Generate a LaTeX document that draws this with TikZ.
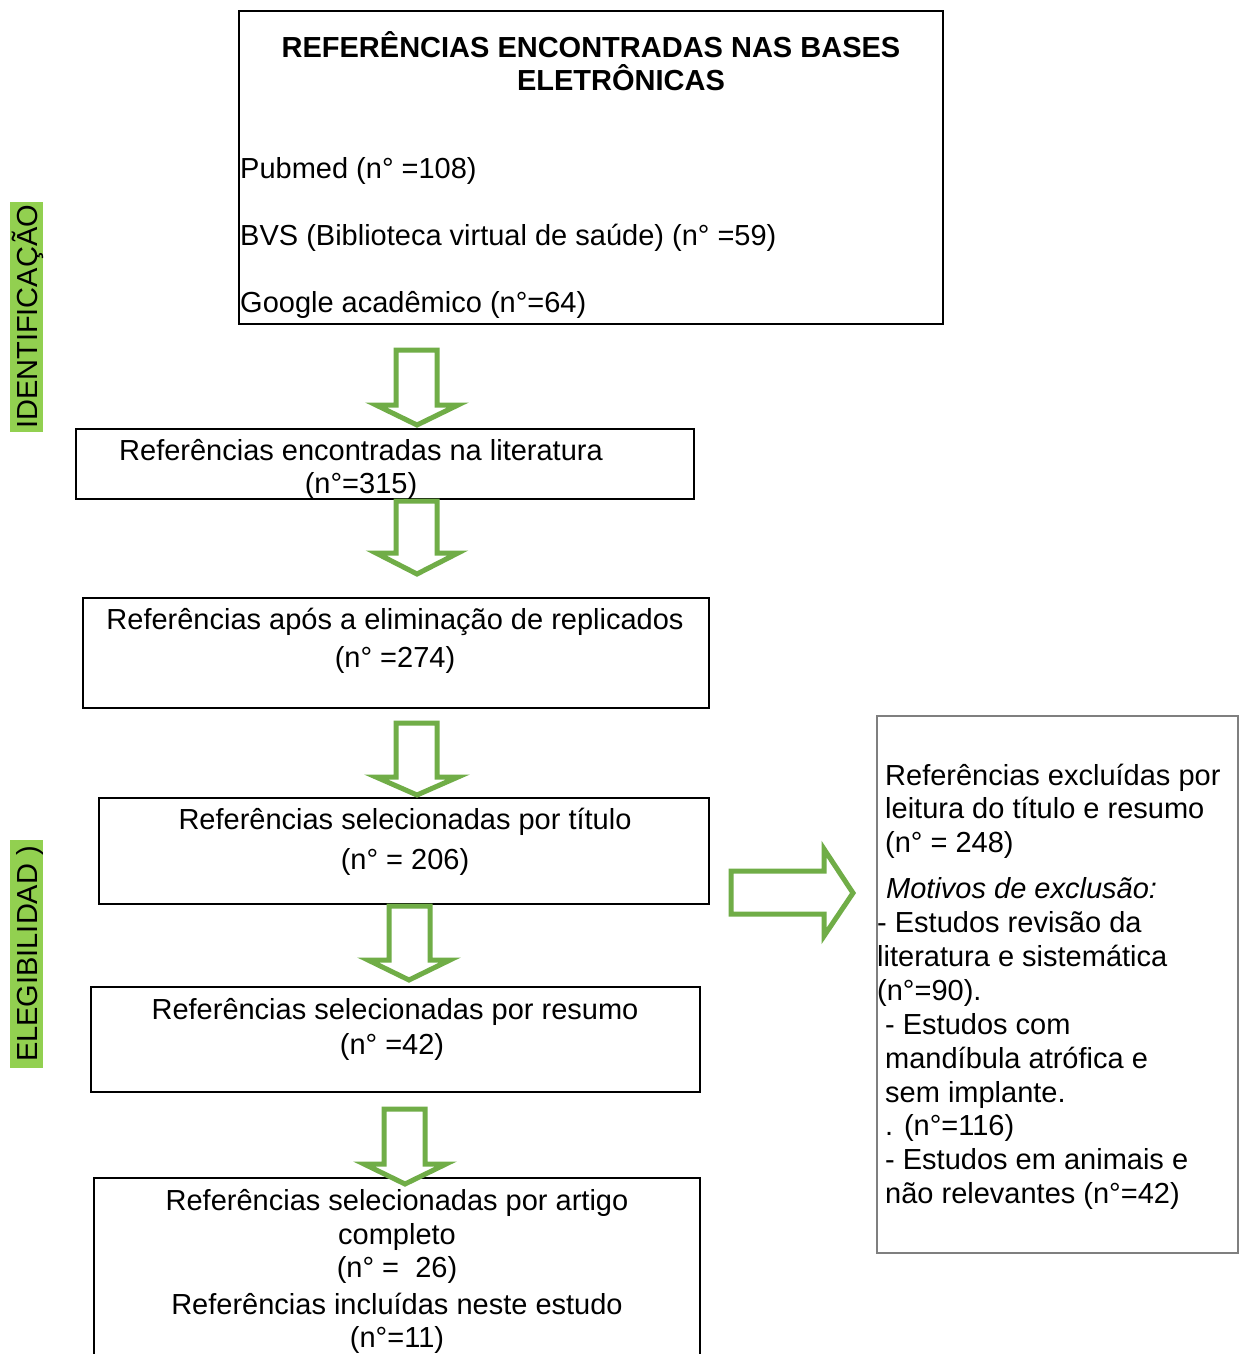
\documentclass[tikz,border=0pt]{standalone}
\usepackage{fontspec}
\setmainfont{Liberation Sans}
\definecolor{arrowgreen}{HTML}{70AD47}
\definecolor{labelgreen}{HTML}{92D050}
\definecolor{boxgray}{HTML}{7F7F7F}
\newcommand{\vblockarrow}[7]{%
  \draw[barrow] (#1,#3) -- (#2,#3) -- (#2,#4) -- (#6,#4) -- ({(#5+#6)/2},#7) -- (#5,#4) -- (#1,#4) -- cycle;}
\begin{document}
\begin{tikzpicture}[x=1pt,y=-1pt,
  box/.style={draw=black,line width=1.6pt,inner sep=0pt,anchor=north west},
  gbox/.style={draw=boxgray,line width=1.6pt,inner sep=0pt,anchor=north west},
  txt/.style={font=\fontsize{29}{34}\selectfont,inner sep=0pt},
  barrow/.style={draw=arrowgreen,line width=5pt,fill=white,line join=miter},
  side/.style={fill=labelgreen,rotate=90,inner sep=0pt,text height=27pt,text depth=6pt,font=\fontsize{29}{34}\selectfont}
]
\clip (0,0) rectangle (1243,1354);
\fill[white] (0,0) rectangle (1243,1354);

% side labels
\node[side,minimum width=230pt] (lab1) at (26.5,317) {IDENTIFICAÇÃO};
\node[side,minimum width=228pt] (lab2) at (26.5,954) {ELEGIBILIDAD )};

% boxes
\node[box,minimum width=704pt,minimum height=313pt] (b1) at (238,10) {};
\node[box,minimum width=618pt,minimum height=70pt] (b2) at (75,428) {};
\node[box,minimum width=626pt,minimum height=110pt] (b3) at (82,597) {};
\node[box,minimum width=610pt,minimum height=106pt] (b4) at (98,797) {};
\node[box,minimum width=609pt,minimum height=105pt] (b5) at (90,986) {};
\node[box,minimum width=606pt,minimum height=230pt] (b6) at (93,1177) {};
\node[gbox,minimum width=361pt,minimum height=537pt] (r) at (876,715) {};

% block arrows
\vblockarrow{396}{437}{350}{405}{376}{458}{425}
\vblockarrow{396}{437}{501}{553}{376}{458}{574}
\vblockarrow{396}{437}{723}{777}{376}{458}{795}
\vblockarrow{389}{430}{906}{960}{368}{450}{980}
\vblockarrow{384}{425}{1109}{1164}{364}{446}{1184}
\draw[barrow] (731,871) -- (824,871) -- (824,849) -- (853,893) -- (824,936) -- (824,914) -- (731,914) -- cycle;

% top box text
\node[txt,anchor=base] (h1) at (591,57) {\bfseries REFERÊNCIAS ENCONTRADAS NAS BASES};
\node[txt,anchor=base] (h2) at (621,90) {\bfseries ELETRÔNICAS};
\node[txt,anchor=base west] (t1) at (240,178) {Pubmed (n° =108)};
\node[txt,anchor=base west] (t2) at (240,245) {BVS (Biblioteca virtual de saúde) (n° =59)};
\node[txt,anchor=base west] (t3) at (240,312) {Google acadêmico (n°=64)};

% other boxes text
\node[txt,anchor=base] (t4a) at (361,460) {Referências encontradas na literatura};
\node[txt,anchor=base] (t4b) at (361,493) {(n°=315)};
\node[txt,anchor=base] (t5a) at (395,629) {Referências após a eliminação de replicados};
\node[txt,anchor=base] (t5b) at (395,667) {(n° =274)};
\node[txt,anchor=base] (t6a) at (405,829) {Referências selecionadas por título};
\node[txt,anchor=base] (t6b) at (405,869) {(n° = 206)};
\node[txt,anchor=base] (t7a) at (395,1019) {Referências selecionadas por resumo};
\node[txt,anchor=base] (t7b) at (392,1054) {(n° =42)};
\node[txt,anchor=base] (t8a) at (397,1210) {Referências selecionadas por artigo};
\node[txt,anchor=base] (t8b) at (397,1244) {completo};
\node[txt,anchor=base] (t8c) at (397,1277) {(n° =\ \ 26)};
\node[txt,anchor=base] (t8d) at (397,1314) {Referências incluídas neste estudo};
\node[txt,anchor=base] (t8e) at (397,1347) {(n°=11)};

% right box text
\node[txt,anchor=base west] (r1) at (885,785) {Referências excluídas por};
\node[txt,anchor=base west] (r2) at (885,818) {leitura do título e resumo};
\node[txt,anchor=base west] (r3) at (885,852) {(n° = 248)};
\node[txt,anchor=base west] (r4) at (886,898) {\itshape Motivos de exclusão:};
\node[txt,anchor=base west] (r5) at (877,932) {- Estudos revisão da};
\node[txt,anchor=base west] (r6) at (877,966) {literatura e sistemática};
\node[txt,anchor=base west] (r7) at (877,1000) {(n°=90).};
\node[txt,anchor=base west] (r8) at (885,1034) {- Estudos com};
\node[txt,anchor=base west] (r9) at (885,1068) {mandíbula atrófica e};
\node[txt,anchor=base west] (r10) at (885,1102) {sem implante.};
\node[txt,anchor=base west] (r11) at (885,1135) {. (n°=116)};
\node[txt,anchor=base west] (r12) at (885,1169) {- Estudos em animais e};
\node[txt,anchor=base west] (r13) at (885,1203) {não relevantes (n°=42)};
\end{tikzpicture}
\end{document}
